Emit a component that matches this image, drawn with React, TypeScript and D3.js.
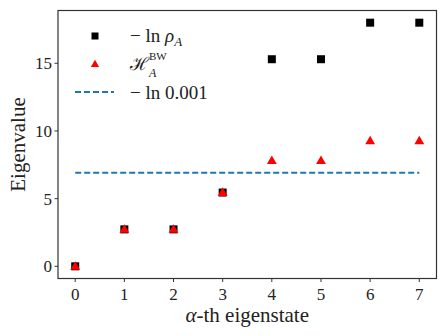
import React from "react";
import * as d3 from "d3";

const states = [0, 1, 2, 3, 4, 5, 6, 7];
const negLnRho = [0, 2.73, 2.73, 5.45, 15.3, 15.3, 18.0, 18.0];
const hBW = [0, 2.73, 2.73, 5.45, 7.8, 7.8, 9.27, 9.27];
const cutoff = 6.9078;
const xTicks = [0, 1, 2, 3, 4, 5, 6, 7];
const yTicks = [0, 5, 10, 15];

const W = 448;
const H = 336;
const margin = { left: 58, top: 10.5, right: 11.5, bottom: 57.5 };
const font = "'Liberation Serif', 'DejaVu Serif', serif";

const App = () => {
  const x = d3
    .scaleLinear()
    .domain([-0.35, 7.35])
    .range([margin.left, W - margin.right]);
  const y = d3
    .scaleLinear()
    .domain([-0.9, 18.9])
    .range([H - margin.bottom, margin.top]);

  const tri = d3.symbol().type(d3.symbolTriangle).size(42)();
  const triSmall = d3.symbol().type(d3.symbolTriangle).size(30)();

  const axisCol = "#333";
  const x0 = margin.left;
  const y0 = H - margin.bottom;

  return (
    <svg width={W} height={H} style={{ position: "absolute", left: 0, top: 0 }}>
      <rect width={W} height={H} fill="white" />

      {/* dashed cutoff line */}
      <line
        x1={x(0)}
        x2={x(7)}
        y1={y(cutoff)}
        y2={y(cutoff)}
        stroke="#1f77b4"
        strokeWidth={2}
        strokeDasharray="6 3"
      />

      {/* -ln rho squares */}
      {states.map((s, i) => (
        <rect
          key={"sq" + i}
          x={x(s) - 4}
          y={y(negLnRho[i]) - 4}
          width={8}
          height={8}
          fill="black"
        />
      ))}

      {/* BW triangles */}
      {states.map((s, i) => (
        <path
          key={"tr" + i}
          d={tri as string}
          transform={`translate(${x(s)},${y(hBW[i]) + 0.5})`}
          fill="red"
        />
      ))}

      {/* frame */}
      <rect
        x={x0}
        y={margin.top}
        width={W - margin.right - margin.left}
        height={y0 - margin.top}
        fill="none"
        stroke={axisCol}
        strokeWidth={1.2}
      />

      {/* y ticks */}
      {yTicks.map((t) => (
        <g key={"yt" + t}>
          <line x1={x0 - 3.5} x2={x0} y1={y(t)} y2={y(t)} stroke={axisCol} />
          <text
            x={x0 - 6}
            y={y(t)}
            dy="0.35em"
            textAnchor="end"
            fontFamily={font}
            fontSize={17}
            fill="#222"
          >
            {t}
          </text>
        </g>
      ))}

      {/* x ticks */}
      {xTicks.map((t) => (
        <g key={"xt" + t}>
          <line x1={x(t)} x2={x(t)} y1={y0} y2={y0 + 3.5} stroke={axisCol} />
          <text
            x={x(t)}
            y={y0 + 21}
            textAnchor="middle"
            fontFamily={font}
            fontSize={17}
            fill="#222"
          >
            {t}
          </text>
        </g>
      ))}

      {/* axis labels */}
      <text
        x={(x0 + W - margin.right) / 2}
        y={322}
        textAnchor="middle"
        fontFamily={font}
        fontSize={21}
        fill="#222"
      >
        <tspan fontStyle="italic">α</tspan>-th eigenstate
      </text>
      <text
        transform={`translate(25,${(margin.top + y0) / 2}) rotate(-90)`}
        textAnchor="middle"
        fontFamily={font}
        fontSize={21}
        fill="#222"
      >
        Eigenvalue
      </text>

      {/* legend */}
      <g fontFamily={font} fontSize={19} fill="#222">
        <rect x={91.5} y={32.5} width={7} height={7} fill="black" />
        <text x={130} y={42}>
          − ln <tspan fontStyle="italic">ρ</tspan>
          <tspan fontStyle="italic" fontSize={13} dy={4}>A</tspan>
        </text>

        <path d={triSmall as string} transform="translate(95,64.5)" fill="red" />
        <text x={130} y={70} fontFamily="'DejaVu Serif', serif" fontSize={18}>
          ℋ
        </text>
        <text x={149} y={77} fontStyle="italic" fontSize={12}>
          A
        </text>
        <text x={149} y={60} fontSize={11}>
          BW
        </text>

        <line
          x1={75}
          x2={114}
          y1={92}
          y2={92}
          stroke="#1f77b4"
          strokeWidth={2}
          strokeDasharray="6 3"
        />
        <text x={130} y={99}>− ln 0.001</text>
      </g>
    </svg>
  );
};

export default App;
